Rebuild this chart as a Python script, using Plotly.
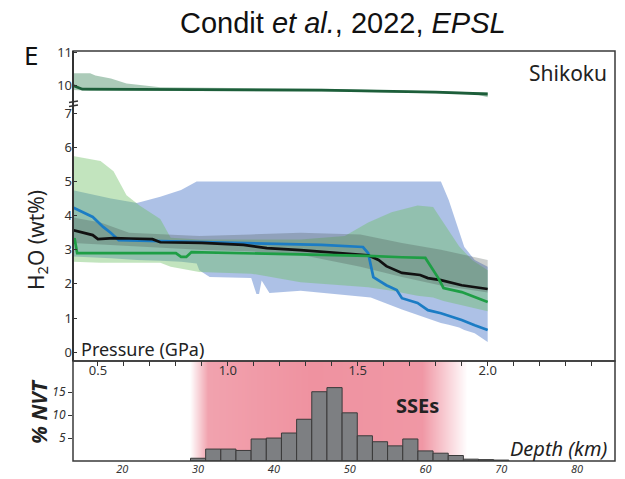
import plotly.graph_objects as go

W, H = 625, 479

# ---------------- data ----------------
# Upper panel: H2O (wt%) vs pressure (GPa)
black_p = [0.40, 0.44, 0.48, 0.50, 0.56, 0.62, 0.71, 0.74, 0.90, 1.06, 1.15, 1.28, 1.36, 1.54, 1.58, 1.61, 1.67, 1.74, 1.77, 1.82, 1.90, 2.00]
black_h2o = [3.58, 3.50, 3.43, 3.31, 3.34, 3.33, 3.31, 3.22, 3.20, 3.14, 3.05, 2.99, 2.95, 2.84, 2.70, 2.52, 2.32, 2.26, 2.17, 2.11, 1.96, 1.85]

blue_p = [0.40, 0.48, 0.52, 0.55, 0.58, 1.00, 1.36, 1.52, 1.54, 1.56, 1.61, 1.65, 1.67, 1.73, 1.77, 1.82, 1.90, 1.95, 2.00]
blue_h2o = [4.25, 3.96, 3.67, 3.49, 3.28, 3.20, 3.14, 3.08, 2.90, 2.20, 1.96, 1.82, 1.58, 1.44, 1.23, 1.14, 0.94, 0.79, 0.65]

green_p = [0.40, 0.41, 0.42, 0.80, 0.82, 0.84, 0.86, 1.28, 1.54, 1.67, 1.76, 1.81, 1.83, 1.90, 2.00]
green_h2o = [3.14, 3.34, 2.90, 2.90, 2.79, 2.79, 2.93, 2.87, 2.82, 2.78, 2.76, 2.17, 1.88, 1.76, 1.47]

blue_band_p = [0.40, 0.55, 0.65, 0.74, 0.82, 0.88, 0.89, 0.93, 1.09, 1.11, 1.12, 1.13, 1.16, 1.28, 1.55, 1.67, 1.82, 1.85, 1.89, 1.91, 1.95, 2.00]
blue_band_hi = [4.75, 4.50, 4.37, 4.55, 4.75, 5.00, 5.00, 5.00, 5.00, 5.00, 5.00, 5.00, 5.00, 5.00, 5.00, 5.00, 5.00, 4.46, 3.58, 3.08, 2.70, 2.50]
blue_band_lo = [2.80, 2.75, 2.70, 2.68, 2.65, 2.60, 2.40, 2.20, 2.17, 1.70, 1.70, 2.10, 1.73, 1.80, 1.60, 1.25, 0.85, 0.80, 0.72, 0.65, 0.55, 0.30]

green_band_p = [0.40, 0.51, 0.56, 0.61, 0.66, 0.74, 0.78, 0.89, 1.09, 1.28, 1.45, 1.54, 1.63, 1.73, 1.79, 1.83, 1.89, 1.94, 2.00]
green_band_hi = [5.75, 5.60, 5.30, 4.60, 4.30, 3.90, 3.35, 3.30, 3.30, 3.30, 3.40, 3.80, 4.10, 4.30, 4.25, 3.80, 3.10, 2.70, 2.40]
green_band_lo = [2.65, 2.62, 2.62, 2.62, 2.62, 2.62, 2.50, 2.35, 2.30, 2.05, 1.95, 1.90, 1.80, 1.65, 1.60, 1.50, 1.40, 1.30, 1.20]

gray_band_p = [0.40, 0.51, 0.62, 0.89, 1.09, 1.28, 1.51, 1.67, 1.82, 2.00]
gray_band_hi = [3.95, 3.80, 3.50, 3.40, 3.45, 3.50, 3.45, 3.20, 3.00, 2.70]
gray_band_lo = [3.20, 3.15, 3.10, 3.00, 2.95, 2.85, 2.50, 2.20, 1.95, 1.75]

# Shikoku (upper broken axis)
shikoku_p = [0.40, 0.44, 1.36, 1.80, 2.00]
shikoku_h2o = [10.00, 9.87, 9.84, 9.78, 9.72]
shikoku_band_p = [0.40, 0.47, 0.49, 0.55, 0.61, 0.74, 1.40, 1.95, 2.00]
shikoku_band_hi = [10.37, 10.37, 10.30, 10.20, 10.05, 9.93, 9.88, 9.80, 9.77]
shikoku_band_lo = [9.85, 9.82, 9.82, 9.82, 9.82, 9.82, 9.80, 9.72, 9.62]

# Lower panel: % NVT histogram vs depth (km)
nvt_depth = [30, 32, 34, 36, 38, 40, 42, 44, 46, 48, 50, 52, 54, 56, 58, 60, 62, 64, 66, 68, 70]
nvt_pct = [0.6, 2.6, 2.6, 2.3, 4.8, 5.0, 6.1, 9.1, 15.1, 16.0, 10.5, 5.5, 4.2, 3.3, 4.8, 2.2, 1.7, 1.2, 0.4, 0.3, 0.2]
# SSE zone (depth, km) and its shading intensity profile
sse_depth = [28.9, 31.3, 45.0, 59.5, 65.4]
sse_shade = [0.0, 0.85, 1.0, 0.95, 0.0]

h2o_ticks_low = [0, 1, 2, 3, 4, 5, 6, 7]
h2o_ticks_high = [10, 11]
nvt_ticks = [5, 10, 15]
depth_ticks = [20, 30, 40, 50, 60, 70, 80]

# ---------------- figure ----------------
def pxx(x):
    return x / W

def pyy(y):
    return 1 - y / H

FONT = "Noto Sans"
fig = go.Figure()


def band(p, hi, lo, color, yaxis="y"):
    fig.add_trace(go.Scatter(
        x=p + p[::-1], y=hi + lo[::-1], fill="toself", fillcolor=color,
        mode="lines", line=dict(width=0), hoverinfo="skip", showlegend=False,
        xaxis="x", yaxis=yaxis))


band(blue_band_p, blue_band_hi, blue_band_lo, "rgba(92,132,205,0.5)")
band(green_band_p, green_band_hi, green_band_lo, "rgba(110,190,100,0.42)")
band(gray_band_p, gray_band_hi, gray_band_lo, "rgba(70,80,75,0.28)")
band(shikoku_band_p, shikoku_band_hi, shikoku_band_lo, "rgba(70,140,100,0.45)", yaxis="y2")

for p, v, c in [(blue_p, blue_h2o, "#1b7cc4"), (black_p, black_h2o, "#111111"),
                (green_p, green_h2o, "#1e9e45")]:
    fig.add_trace(go.Scatter(x=p, y=v, mode="lines", line=dict(color=c, width=2.7),
                             showlegend=False, xaxis="x", yaxis="y"))
fig.add_trace(go.Scatter(x=shikoku_p, y=shikoku_h2o, mode="lines",
                         line=dict(color="#1d5e3a", width=2.8), showlegend=False,
                         xaxis="x", yaxis="y2"))

# SSE pink gradient zone (heatmap layer sits beneath the bars)
fig.add_trace(go.Heatmap(
    x=sse_depth, y=[-5, 30], z=[sse_shade, sse_shade], zsmooth="best",
    colorscale=[[0, "rgb(255,255,255)"], [1, "rgb(239,146,160)"]], zmin=0, zmax=1,
    showscale=False, hoverinfo="skip", xaxis="x2", yaxis="y3"))

fig.add_trace(go.Bar(x=nvt_depth, y=nvt_pct, width=2,
                     marker=dict(color="#7d7f82", line=dict(color="#3a3a3a", width=1)),
                     showlegend=False, xaxis="x2", yaxis="y3"))
# invisible trace to carry the pressure axis of the lower panel
fig.add_trace(go.Scatter(x=[1.0], y=[-5], mode="markers", marker=dict(opacity=0),
                         showlegend=False, hoverinfo="skip", xaxis="x3", yaxis="y3"))

xdom = [pxx(73), pxx(615)]
prange = [0.404, 2.49]
tickfont = dict(family=FONT, size=13, color="#333")

fig.update_layout(
    width=W, height=H, autosize=False,
    margin=dict(l=0, r=0, t=0, b=0, autoexpand=False),
    paper_bgcolor="white", plot_bgcolor="rgba(0,0,0,0)",
    barmode="overlay",
    xaxis=dict(domain=xdom, range=prange, anchor="y", showticklabels=False, ticks="",
               showgrid=False, zeroline=False, showline=False),
    yaxis=dict(domain=[pyy(361), pyy(103)], range=[-0.26, 7.3], anchor="x",
               tickvals=h2o_ticks_low, ticks="inside", ticklen=4, tickcolor="#333",
               tickfont=tickfont, showgrid=False, zeroline=False, showline=False),
    yaxis2=dict(domain=[pyy(103), pyy(51)], range=[9.44, 11.06], anchor="x",
                tickvals=h2o_ticks_high, ticks="inside", ticklen=4, tickcolor="#333",
                tickfont=tickfont, showgrid=False, zeroline=False, showline=False),
    xaxis2=dict(domain=xdom, range=[13.5, 85.0], anchor="y3", tickvals=depth_ticks,
                ticks="", tickfont=dict(family=FONT, size=11, color="#333", style="italic"),
                showgrid=False, zeroline=False, showline=False),
    yaxis3=dict(domain=[pyy(461), pyy(361)], range=[0, 21.8], anchor="x2",
                tickvals=nvt_ticks, ticks="outside", ticklen=4, tickcolor="#333",
                tickfont=dict(family=FONT, size=12, color="#333", style="italic"),
                showgrid=False, zeroline=False, showline=False),
    xaxis3=dict(overlaying="x2", side="top", anchor="y3", range=prange,
                tick0=0.5, dtick=0.5, tickformat=".1f", ticks="inside", ticklen=5,
                tickcolor="#333", ticklabelposition="inside",
                tickfont=dict(family=FONT, size=13, color="#333"),
                minor=dict(tick0=0, dtick=0.1, ticks="inside", ticklen=5, tickcolor="#333"),
                showgrid=False, zeroline=False, showline=False),
)

# frames and axis-break marks
shapes = [
    dict(type="rect", xref="paper", yref="paper", x0=pxx(73), x1=pxx(615), y0=pyy(361), y1=pyy(51),
         line=dict(color="#3a3a3a", width=1.5), layer="above"),
    dict(type="rect", xref="paper", yref="paper", x0=pxx(73), x1=pxx(615), y0=pyy(461), y1=pyy(361),
         line=dict(color="#3a3a3a", width=1.5), layer="above"),
    dict(type="line", xref="paper", yref="paper", x0=pxx(73), x1=pxx(73), y0=pyy(361), y1=pyy(51),
         line=dict(color="#333", width=2), layer="above"),
    dict(type="line", xref="paper", yref="paper", x0=pxx(69), x1=pxx(78), y0=pyy(102.5), y1=pyy(101),
         line=dict(color="#333", width=1.3), layer="above"),
    dict(type="line", xref="paper", yref="paper", x0=pxx(69), x1=pxx(78), y0=pyy(106.5), y1=pyy(105),
         line=dict(color="#333", width=1.3), layer="above"),
]
fig.update_layout(shapes=shapes)


def note(text, x, y, size, xanchor="center", angle=0, family=FONT, color="#222"):
    fig.add_annotation(text=text, x=pxx(x), y=pyy(y), xref="paper", yref="paper",
                       xanchor=xanchor, yanchor="middle", showarrow=False, textangle=angle,
                       font=dict(family=family, size=size, color=color))


note("Condit <i>et al.</i>, 2022, <i>EPSL</i>", 343, 23, 29, family="Liberation Sans", color="#111")
note("E", 31, 55, 26, color="#111")
note("Shikoku", 568, 73, 21)
note("Pressure (GPa)", 79, 349, 18, xanchor="left")
note("H<sub>2</sub>O (wt%)", 37, 240, 21, angle=-90)
note("<b><i>% NVT</i></b>", 39, 412, 21, angle=-90)
note("<b>SSEs</b>", 417, 405, 20)
note("<i>Depth (km)</i>", 558, 448, 20)

fig.write_html("out.html", config={"displayModeBar": False},
               post_script="document.body.style.margin='0px';")
